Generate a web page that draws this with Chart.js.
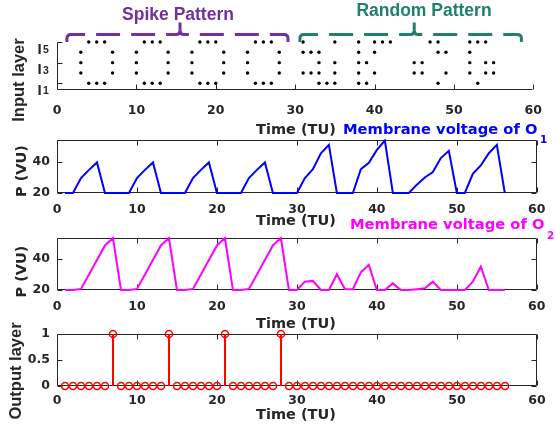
<!DOCTYPE html>
<html><head><meta charset="utf-8">
<script src="https://cdn.jsdelivr.net/npm/chart.js@4"></script>
<style>
html,body{margin:0;padding:0;background:#fff;}
#wrap{position:relative;width:555px;height:434px;overflow:hidden;background:#fff;}
canvas{position:absolute;left:0;top:0;}
</style></head><body>
<div id="wrap">
<canvas id="c1" width="555" height="434"></canvas>
<canvas id="c2" width="555" height="434"></canvas>
<canvas id="c3" width="555" height="434"></canvas>
<canvas id="c4" width="555" height="434"></canvas>
</div>
<script>
// ---------------- DATA ----------------
const timeSteps = [1,2,3,4,5,6,7,8,9,10,11,12,13,14,15,16,17,18,19,20,21,22,23,24,25,26,27,28,
                   29,30,31,32,33,34,35,36,37,38,39,40,41,42,43,44,45,46,47,48,49,50,51,52,53,54,55,56];
const xTickValues = [0,10,20,30,40,50,60];

// input spikes (time steps at which each input neuron fires)
const inputI1 = [4,5,6,11,12,13,18,19,20,25,26,27, 33,34,35,38,39,48,53];
const inputI2 = [3,7,10,14,17,21,24,28, 31,32,33,35,38,40,45,46,49,52,54,55];
const inputI3 = [3,7,10,14,17,21,24,28, 33,35,38,39,45,46,52,54,55];
const inputI4 = [3,7,10,14,17,21,24,28, 31,32,33,38,40,48,49,52];
const inputI5 = [4,5,6,11,12,13,18,19,20,25,26,27, 31,35,38,40,41,42,47,48,52,53,54];
const inputTickValues = [1,3,5];
const inputTickSubs = ['1','3','5'];

// membrane voltages (VU)
const voltageO1 = [20,20,29.5,34.7,39.4,20,20,20,20,29.5,34.7,39.4,20,20,20,20,29.5,34.7,39.4,20,
                   20,20,20,29.5,34.7,39.4,20,20,20,20,29.5,35.2,45.3,50.6,20,20,20,35.2,39.2,47.4,
                   53.3,20,20,20,25.3,29.9,33.3,42.2,46.8,20,20,32.2,37.5,45.3,50.6,20];
const voltageO2 = [20,20,20.7,30,39.5,48.9,53.7,20,20,20.7,30,39.5,48.9,53.7,20,20,20.7,30,39.5,48.9,
                   53.7,20,20,20.7,30,39.5,48.9,53.7,20,20,25.4,25.9,20,20,30.2,20.7,20.5,31.5,36.3,20,
                   20,24.3,20,20,20.5,21.1,25.4,20,20,20,20,25.4,35.2,20,20,20];
const voltageTickValues = [20,40];

// output layer spikes
const outputSpikes = [0,0,0,0,0,0,1,0,0,0,0,0,0,1,0,0,0,0,0,0,1,0,0,0,0,0,0,1,
                      0,0,0,0,0,0,0,0,0,0,0,0,0,0,0,0,0,0,0,0,0,0,0,0,0,0,0,0];
const outputTickValues = [0,0.5,1];

// ---------------- STYLE / LAYOUT ----------------
const W = 555, H = 434, PL = 57, PR = 537, XH = 30;
const FONT = "'DejaVu Sans', 'Liberation Sans', sans-serif";
const ARIAL = "'Liberation Sans', Arial, sans-serif";
const AX = '#262626';
const PURPLE = '#7030A0', TEAL = '#20806F';
Chart.defaults.font.family = FONT;
Chart.defaults.font.weight = 'bold';
Chart.defaults.font.size = 12.5;
Chart.defaults.color = AX;

function txt(ctx, t) {
  ctx.save();
  ctx.font = 'bold ' + t.size + 'px ' + (t.family || FONT);
  ctx.fillStyle = t.color || AX;
  ctx.textAlign = t.align || 'center';
  ctx.textBaseline = t.baseline || 'alphabetic';
  ctx.translate(t.x, t.y);
  if (t.rot) ctx.rotate(t.rot);
  ctx.fillText(t.text, 0, 0);
  ctx.restore();
}

function framePlugin(box, yTicks) {
  return {
    id: 'frame',
    beforeDatasetsDraw(chart) {
      const {ctx, chartArea: a, scales: {x, y}} = chart;
      const L = Math.round(a.left) + 0.5, R = Math.round(a.right) - 0.5;
      const T = Math.round(a.top) + 0.5, B = Math.round(a.bottom) - 0.5;
      ctx.save();
      ctx.strokeStyle = AX; ctx.lineWidth = 1;
      ctx.beginPath();
      ctx.moveTo(L, T); ctx.lineTo(L, B); ctx.lineTo(R, B);
      if (box) { ctx.lineTo(R, T); ctx.lineTo(L, T); }
      xTickValues.forEach(v => {
        const px = Math.round(x.getPixelForValue(v)) + 0.5;
        ctx.moveTo(px, B); ctx.lineTo(px, B - 5);
        if (box) { ctx.moveTo(px, T); ctx.lineTo(px, T + 5); }
      });
      yTicks.forEach(v => {
        const py = Math.round(y.getPixelForValue(v)) + 0.5;
        ctx.moveTo(L, py); ctx.lineTo(L + 5, py);
        if (box) { ctx.moveTo(R, py); ctx.lineTo(R - 5, py); }
      });
      ctx.stroke();
      ctx.restore();
    }
  };
}

function textPlugin(drawFn) {
  return { id: 'texts', afterDraw(chart) { drawFn(chart, chart.ctx); } };
}

function makePanel(id, cfg) {
  return new Chart(document.getElementById(id), {
    type: 'scatter',
    data: { datasets: cfg.datasets },
    options: {
      responsive: false, animation: false, devicePixelRatio: 1,
      layout: { padding: { left: 0, right: W - PR, top: cfg.top, bottom: H - cfg.bottom - XH } },
      plugins: { legend: { display: false }, tooltip: { enabled: false } },
      scales: {
        x: {
          type: 'linear', min: 0, max: 60,
          afterFit: s => { s.height = XH; },
          afterBuildTicks: s => { s.ticks = xTickValues.map(v => ({ value: v })); },
          grid: { display: false, drawTicks: false }, border: { display: false },
          ticks: { padding: cfg.xPad, autoSkip: false, maxRotation: 0, color: AX,
                   font: { size: 12.5, weight: 'bold' }, callback: v => String(v) }
        },
        y: {
          type: 'linear', min: cfg.ymin, max: cfg.ymax,
          afterFit: s => { s.width = PL; },
          afterBuildTicks: s => { s.ticks = cfg.yTicks.map(v => ({ value: v })); },
          grid: { display: false, drawTicks: false }, border: { display: false },
          ticks: { display: cfg.yLabels !== false, padding: 7, color: AX,
                   font: { size: 12.5, weight: 'bold' }, callback: v => String(v) }
        }
      }
    },
    plugins: [framePlugin(cfg.box, cfg.yTicks), textPlugin(cfg.draw)]
  });
}

// ---------------- PANEL 1 : input layer ----------------
const rows = [inputI1, inputI2, inputI3, inputI4, inputI5];
makePanel('c1', {
  top: 42, bottom: 90, ymin: 0.35, ymax: 5, yTicks: inputTickValues, yLabels: false, box: false, xPad: 13,
  datasets: rows.map((r, i) => ({
    data: r.map(t => ({ x: t, y: i + 1 })),
    pointRadius: 1.7, pointBackgroundColor: '#000', pointBorderWidth: 0, showLine: false, clip: false
  })),
  draw(chart, ctx) {
    const {x, y} = chart.scales;
    // y tick labels: I with subscripts
    inputTickValues.forEach((v, i) => {
      const py = y.getPixelForValue(v);
      txt(ctx, { text: 'I', x: 37.5, y: py + 11.5, size: 15, align: 'left', family: ARIAL });
      txt(ctx, { text: inputTickSubs[i], x: 43, y: py + 11, size: 10.5, align: 'left', family: ARIAL });
    });
    // brackets
    function bracket(x0, x1, xm, color) {
      const L = x.getPixelForValue(x0), R = x.getPixelForValue(x1), M = x.getPixelForValue(xm);
      const yl = 34.5, yb = 42, yt = 22.5, r = 4;
      ctx.save();
      ctx.strokeStyle = color; ctx.lineWidth = 3; ctx.setLineDash([24, 11]); ctx.lineCap = 'butt';
      ctx.beginPath();
      ctx.moveTo(L, yb); ctx.lineTo(L, yl + r); ctx.quadraticCurveTo(L, yl, L + r, yl);
      ctx.lineTo(M - r, yl); ctx.quadraticCurveTo(M, yl, M, yl - r);
      ctx.stroke();
      ctx.beginPath();
      ctx.moveTo(R, yb); ctx.lineTo(R, yl + r); ctx.quadraticCurveTo(R, yl, R - r, yl);
      ctx.lineTo(M + r, yl); ctx.quadraticCurveTo(M, yl, M, yl - r);
      ctx.stroke();
      ctx.setLineDash([]);
      ctx.beginPath(); ctx.moveTo(M, yl - r); ctx.lineTo(M, yt); ctx.stroke();
      ctx.restore();
    }
    bracket(1.25, 29.1, 15.5, PURPLE);
    bracket(30.6, 58.5, 45, TEAL);
    txt(ctx, { text: 'Spike Pattern', x: 178, y: 19.5, size: 17.5, color: PURPLE, family: ARIAL });
    txt(ctx, { text: 'Random Pattern', x: 424, y: 15.5, size: 17.5, color: TEAL, family: ARIAL });
    txt(ctx, { text: 'Time (TU)', x: 296, y: 134, size: 14.5 });
    txt(ctx, { text: 'Input layer', x: 19, y: 80, size: 16.5, rot: -Math.PI / 2, baseline: 'middle', family: ARIAL });
  }
});

// ---------------- PANEL 2 : membrane voltage O1 ----------------
makePanel('c2', {
  top: 140, bottom: 193, ymin: 20, ymax: 53.7, yTicks: voltageTickValues, box: true, xPad: 9.5,
  datasets: [{
    data: timeSteps.map((t, i) => ({ x: t, y: voltageO1[i] })),
    showLine: true, borderColor: '#0000FF', borderWidth: 2, pointRadius: 0, clip: 3, tension: 0
  }],
  draw(chart, ctx) {
    txt(ctx, { text: 'Membrane voltage of O', x: 343, y: 133.5, size: 14.7, align: 'left', color: '#0000FF' });
    txt(ctx, { text: '1', x: 540, y: 143, size: 10.5, align: 'left', color: '#0000FF' });
    txt(ctx, { text: 'Time (TU)', x: 296, y: 225, size: 14.5 });
    txt(ctx, { text: 'P (VU)', x: 22, y: 171, size: 14.5, rot: -Math.PI / 2, baseline: 'middle' });
  }
});

// ---------------- PANEL 3 : membrane voltage O2 ----------------
makePanel('c3', {
  top: 238, bottom: 290, ymin: 20, ymax: 53.7, yTicks: voltageTickValues, box: true, xPad: 9.5,
  datasets: [{
    data: timeSteps.map((t, i) => ({ x: t, y: voltageO2[i] })),
    showLine: true, borderColor: '#FF00FF', borderWidth: 2, pointRadius: 0, clip: 3, tension: 0
  }],
  draw(chart, ctx) {
    txt(ctx, { text: 'Membrane voltage of O', x: 350, y: 229, size: 14.7, align: 'left', color: '#FF00FF' });
    txt(ctx, { text: '2', x: 547, y: 239, size: 10.5, align: 'left', color: '#FF00FF' });
    txt(ctx, { text: 'Time (TU)', x: 296, y: 328, size: 14.5 });
    txt(ctx, { text: 'P (VU)', x: 22, y: 271.5, size: 14.5, rot: -Math.PI / 2, baseline: 'middle' });
  }
});

// ---------------- PANEL 4 : output layer ----------------
const stemDatasets = timeSteps.filter((t, i) => outputSpikes[i] > 0).map(t => ({
  data: [{ x: t, y: 0 }, { x: t, y: outputSpikes[timeSteps.indexOf(t)] }],
  showLine: true, borderColor: '#FF0000', borderWidth: 2, pointRadius: 0, clip: false
}));
makePanel('c4', {
  top: 334, bottom: 386, ymin: 0, ymax: 1, yTicks: outputTickValues, box: true, xPad: 7.5,
  datasets: [{
    data: timeSteps.map((t, i) => ({ x: t, y: outputSpikes[i] })),
    showLine: false, pointRadius: 3.5, pointBorderWidth: 1.5, pointBorderColor: '#FF0000',
    pointBackgroundColor: 'rgba(0,0,0,0)', clip: false
  }].concat(stemDatasets),
  draw(chart, ctx) {
    txt(ctx, { text: 'Time (TU)', x: 296, y: 419, size: 14.5 });
    txt(ctx, { text: 'Output layer', x: 16, y: 371, size: 16.5, rot: -Math.PI / 2, baseline: 'middle', family: ARIAL });
  }
});
</script>
</body></html>
